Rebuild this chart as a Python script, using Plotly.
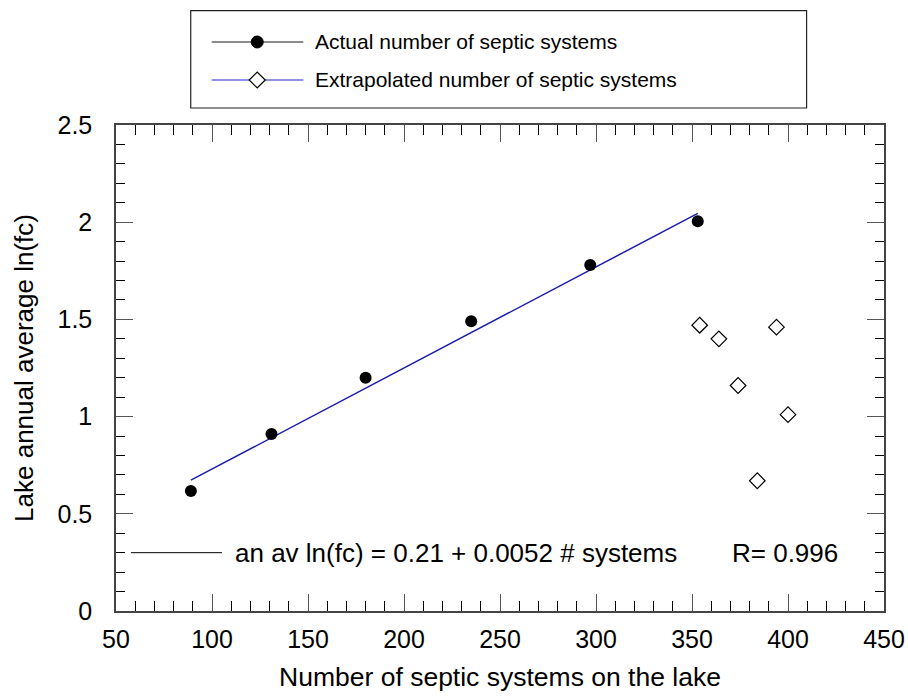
import plotly.graph_objects as go

# Observed lakes: septic system count vs. annual average ln(fecal coliform)
actual_systems = [89, 131, 180, 235, 297, 353]
actual_lnfc = [0.617, 0.91, 1.20, 1.49, 1.78, 2.005]

# Lakes with an extrapolated septic system count
extrap_systems = [354, 364, 374, 384, 394, 400]
extrap_lnfc = [1.47, 1.40, 1.16, 0.67, 1.46, 1.01]

# Linear fit reported on the chart
fit_intercept = 0.21
fit_slope = 0.0052
fit_r = 0.996

x_ticks = [50, 100, 150, 200, 250, 300, 350, 400, 450]
y_ticks = [0, 0.5, 1, 1.5, 2, 2.5]

FONT = "Liberation Sans, Arial, sans-serif"

fit_x = [min(actual_systems), max(actual_systems)]
fit_y = [fit_intercept + fit_slope * v for v in fit_x]

fig = go.Figure()
fig.add_trace(go.Scatter(
    x=fit_x, y=fit_y, mode="lines",
    line=dict(color="#1c1cae", width=1.5), showlegend=False, hoverinfo="skip"))
fig.add_trace(go.Scatter(
    x=actual_systems, y=actual_lnfc, mode="markers",
    marker=dict(symbol="circle", size=12, color="black"),
    name="Actual number of septic systems", showlegend=False))
fig.add_trace(go.Scatter(
    x=extrap_systems, y=extrap_lnfc, mode="markers",
    marker=dict(symbol="diamond-open", size=12, color="black", line=dict(width=1.2)),
    name="Extrapolated number of septic systems", showlegend=False))

axis_common = dict(
    showgrid=False, zeroline=False, showline=True, linecolor="#444", linewidth=1.5,
    mirror="allticks", ticks="inside", ticklen=17, tickwidth=1.2, tickcolor="#555",
    tickfont=dict(family=FONT, size=25, color="black"),
)

fig.update_xaxes(
    range=[50, 450], tickvals=x_ticks, ticklabelstandoff=5,
    minor=dict(dtick=10, ticks="inside", ticklen=10, tickwidth=1, tickcolor="black"),
    title=dict(text="Number of septic systems on the lake",
               font=dict(family=FONT, size=26.5, color="black"), standoff=16),
    **axis_common)
fig.update_yaxes(
    range=[0, 2.5], tickvals=y_ticks, ticklabelstandoff=17,
    minor=dict(dtick=0.1, ticks="inside", ticklen=9, tickwidth=1, tickcolor="black"),
    title=dict(text="Lake annual average ln(fc)",
               font=dict(family=FONT, size=26, color="black"), standoff=16),
    **axis_common)

shapes = []
annotations = []

# Legend box drawn above the plot area
shapes.append(dict(type="rect", xref="paper", yref="paper",
                   x0=0.0973, x1=0.8992, y0=1.035, y1=1.2352,
                   line=dict(color="#222", width=1.2), fillcolor="white"))
legend_rows = [
    ("Actual number of septic systems", 1.1708, "#666666", "circle"),
    ("Extrapolated number of septic systems", 1.0926, "#6b6be0", "diamond"),
]
for label, ly, lcolor, sym in legend_rows:
    shapes.append(dict(type="line", xref="paper", yref="paper",
                       x0=0.1246, x1=0.2439, y0=ly, y1=ly,
                       line=dict(color=lcolor, width=1.5)))
    if sym == "circle":
        shapes.append(dict(type="circle", xref="paper", yref="paper",
                           xsizemode="pixel", ysizemode="pixel",
                           xanchor=0.1839, yanchor=ly,
                           x0=-6, x1=6, y0=-6, y1=6,
                           fillcolor="black", line=dict(color="black", width=1)))
    else:
        shapes.append(dict(type="path", xref="paper", yref="paper",
                           xsizemode="pixel", ysizemode="pixel",
                           xanchor=0.1839, yanchor=ly,
                           path="M -8 0 L 0 8 L 8 0 L 0 -8 Z",
                           fillcolor="white", line=dict(color="black", width=1.2)))
    annotations.append(dict(text=label, xref="paper", yref="paper",
                            x=0.2565, y=ly, xanchor="left", yanchor="middle",
                            showarrow=False,
                            font=dict(family=FONT, size=21, color="black")))

# Fit equation key inside the plot
shapes.append(dict(type="line", xref="x", yref="y", x0=57.8, x1=105.2, y0=0.30, y1=0.30,
                   line=dict(color="black", width=1)))
annotations.append(dict(
    text=f"an av ln(fc) = {fit_intercept:.2f} + {fit_slope:.4f} # systems",
    xref="x", yref="y", x=110.8, y=0.30, xanchor="left", yanchor="middle",
    showarrow=False, font=dict(family=FONT, size=26, color="black")))
annotations.append(dict(
    text=f"R= {fit_r:.3f}", xref="x", yref="y", x=369.8, y=0.30,
    xanchor="left", yanchor="middle", showarrow=False,
    font=dict(family=FONT, size=26, color="black")))

fig.update_layout(
    width=908, height=696,
    margin=dict(l=116, r=24, t=125, b=85, autoexpand=False),
    paper_bgcolor="white", plot_bgcolor="white",
    shapes=shapes, annotations=annotations,
    showlegend=False,
)

fig.write_html("out.html")
